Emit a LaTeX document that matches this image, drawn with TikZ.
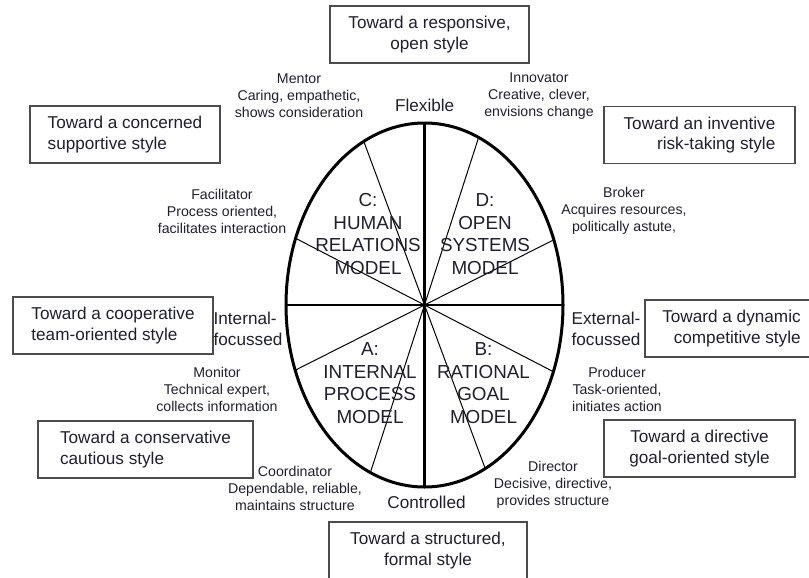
\documentclass[tikz,border=0pt]{standalone}
\usepackage{fontspec}
\setmainfont{Liberation Sans}
\usetikzlibrary{positioning}
\definecolor{ink}{rgb}{0.12,0.12,0.18}

\begin{document}
\begin{tikzpicture}[x=0.6pt,y=-0.6pt]
		\tikzstyle{every node}+=[text=ink]
		\tikzstyle{stylebox}=[draw=black!70, line width=0.7pt, minimum height=34.2pt, inner sep=0pt, font=\fontsize{10.3}{12.4}\selectfont]
		\tikzstyle{role}=[align=center, inner sep=0pt, font=\fontsize{8.5}{10.2}\selectfont]
		\tikzstyle{model}=[align=center, inner sep=0pt, font=\fontsize{11.3}{13.6}\selectfont]
		\tikzstyle{axislabel}=[align=left, inner sep=0pt, font=\fontsize{10.3}{12.6}\selectfont]
		\useasboundingbox (0,0) rectangle (809,577);
		\coordinate (c) at (424.5,305);
		\draw [black, line width=1.8pt] (c) ellipse [x radius=138.5, y radius=182];
		\foreach \a in {-21,-67,-116,-158.5}
			\draw [black, line width=0.6pt] (c) ++(\a:138.5 and 182) -- ++(\a+180:277 and 364);
		\draw [black, line width=1.5pt] (c) ++(-138.5,0) -- ++(277,0);
		\draw [black, line width=1.5pt] (c) ++(0,-182) -- ++(0,364);
		\node [model] (humrel) at (368,234) {C:\\HUMAN\\RELATIONS\\MODEL};
		\node [model] (opensys) at (485,234) {D:\\OPEN\\SYSTEMS\\MODEL};
		\node [model] (intproc) at (370,383) {A:\\INTERNAL\\PROCESS\\MODEL};
		\node [model] (ratgoal) at (483.5,383) {B:\\RATIONAL\\GOAL\\MODEL};
		\node [axislabel] (flexible) at (424.7,105) {Flexible};
		\node [axislabel] (controlled) at (426.5,502) {Controlled};
		\node [axislabel] (internal) at (248,329) {Internal-\\focussed};
		\node [axislabel] (external) at (606,329) {External-\\focussed};
		\node [role] (mentor) at (299,96) {Mentor\\Caring, empathetic,\\shows consideration};
		\node [role] (innovator) at (539,96) {Innovator\\Creative, clever,\\envisions change};
		\node [role] (facilitator) at (222,211) {Facilitator\\Process oriented,\\facilitates interaction};
		\node [role] (broker) at (624,211) {Broker\\Acquires resources,\\politically astute,};
		\node [role] (monitor) at (217,389) {Monitor\\Technical expert,\\collects information};
		\node [role] (producer) at (617,389) {Producer\\Task-oriented,\\initiates action};
		\node [role] (coordinator) at (295,488) {Coordinator\\Dependable, reliable,\\maintains structure};
		\node [role] (director) at (553,485) {Director\\Decisive, directive,\\provides structure};
		\node [stylebox, minimum width=119.4pt, align=center] (responsive) at (429.5,34.5) {Toward a responsive,\\open style};
		\node [stylebox, minimum width=114pt, align=left] (concerned) at (125,134.5) {Toward a concerned\\supportive style};
		\node [stylebox, minimum width=114.6pt, align=right] (inventive) at (699.5,135) {Toward an inventive\\risk-taking style};
		\node [stylebox, minimum width=120pt, align=left] (cooperative) at (113,325.5) {Toward a cooperative\\team-oriented style};
		\node [stylebox, minimum width=103.8pt, align=right] (dynamic) at (731.5,328.5) {Toward a dynamic\\competitive style};
		\node [stylebox, minimum width=129pt, align=left] (conservative) at (145.5,449.5) {Toward a conservative\\cautious style};
		\node [stylebox, minimum width=114.6pt, align=center] (directive) at (699.5,448.5) {Toward a directive\\goal-oriented style};
		\node [stylebox, minimum width=118.8pt, align=center] (structured) at (428,550.5) {Toward a structured,\\formal style};
\end{tikzpicture}
\end{document}
